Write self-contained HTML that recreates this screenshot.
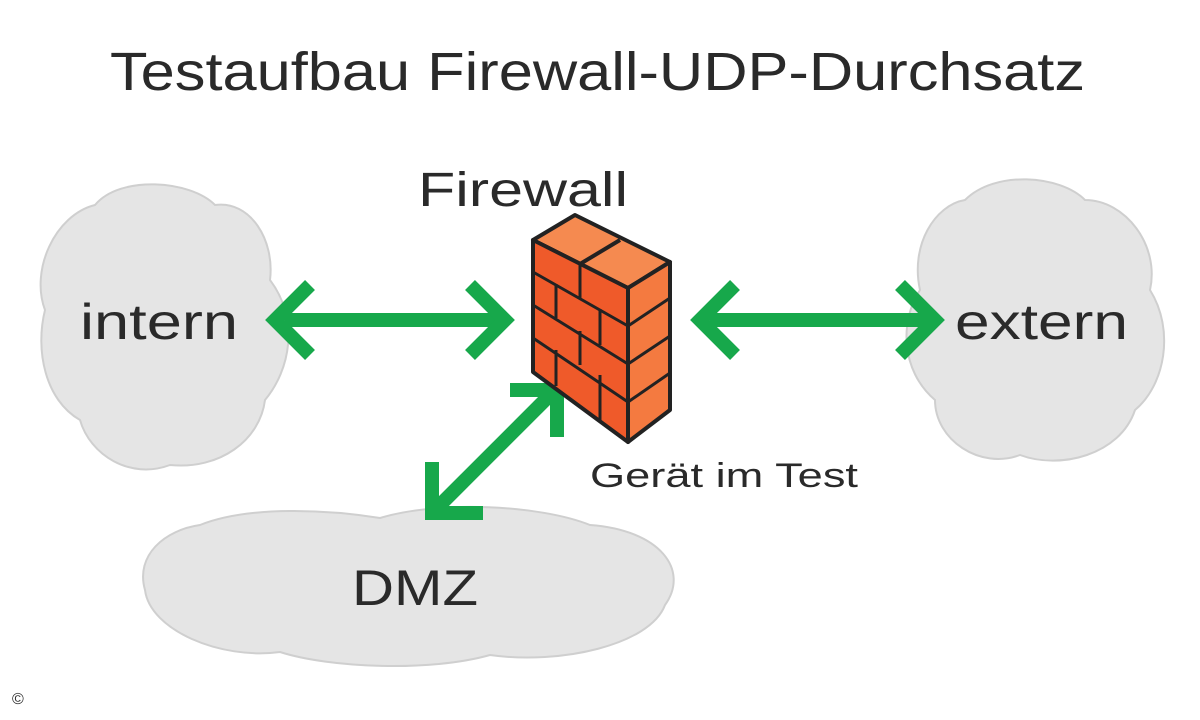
<!DOCTYPE html>
<html><head><meta charset="utf-8"><style>
html,body{margin:0;padding:0;background:#fff;}
svg{display:block;}
text{font-family:"Liberation Sans","DejaVu Sans",sans-serif;fill:#2a2a2a;}
</style></head><body>
<svg width="1200" height="720" viewBox="0 0 1200 720" xmlns="http://www.w3.org/2000/svg">
<g fill="#e5e5e5" stroke="#cfcfcf" stroke-width="2">
  <path d="M95,205 C120,175 190,180 215,205 C250,200 275,240 270,280 C300,320 290,370 265,400 C260,440 220,470 170,465 C130,480 90,455 80,420 C45,400 35,350 45,310 C30,270 55,215 95,205 Z"/>
  <path d="M965,200 C995,170 1060,175 1085,200 C1125,200 1160,245 1150,290 C1175,330 1165,385 1135,410 C1120,455 1060,470 1020,455 C980,470 935,440 935,400 C900,370 900,320 920,290 C910,245 935,205 965,200 Z"/>
  <path d="M200,525 C250,505 330,510 380,518 C440,500 540,505 590,525 C660,530 690,570 665,605 C650,645 560,665 490,655 C430,672 330,668 280,652 C220,660 150,630 145,590 C135,555 165,530 200,525 Z"/>
</g>
<text x="110" y="90" font-size="54" textLength="975" lengthAdjust="spacingAndGlyphs">Testaufbau Firewall-UDP-Durchsatz</text>
<text x="418" y="206" font-size="48" textLength="210" lengthAdjust="spacingAndGlyphs">Firewall</text>
<text x="80" y="339" font-size="50" textLength="158" lengthAdjust="spacingAndGlyphs">intern</text>
<text x="955" y="339" font-size="50" textLength="173" lengthAdjust="spacingAndGlyphs">extern</text>
<text x="352" y="605" font-size="50" textLength="126" lengthAdjust="spacingAndGlyphs">DMZ</text>
<text x="590" y="487" font-size="34" textLength="268" lengthAdjust="spacingAndGlyphs">Gerät im Test</text>
<text x="12" y="704" font-size="16">©</text>
<g stroke="#17a84b" stroke-width="14" fill="none" stroke-linecap="butt" stroke-linejoin="miter">
  <line x1="285" y1="320" x2="500" y2="320"/>
  <polyline points="310,285 275,320 310,355"/>
  <polyline points="470,285 505,320 470,355"/>
  <line x1="710" y1="320" x2="930" y2="320"/>
  <polyline points="735,285 700,320 735,355"/>
  <polyline points="900,285 935,320 900,355"/>
  <line x1="435" y1="510" x2="555" y2="390"/>
  <polyline points="432,462 432,513 483,513"/>
  <polyline points="510,390 557,390 557,437"/>
</g>
<g stroke="#222" stroke-width="4" stroke-linejoin="round">
  <polygon points="533,240 575,215 670,262 628,288" fill="#f58a50"/>
  <polygon points="533,240 628,288 628,442 533,372" fill="#ef5a2a"/>
  <polygon points="628,288 670,262 670,410 628,442" fill="#f47a40"/>
  <line x1="580" y1="264" x2="620" y2="240"/>
  <g fill="none" stroke-width="3">
    <line x1="533" y1="272" x2="628" y2="326"/>
    <line x1="533" y1="305" x2="628" y2="364"/>
    <line x1="533" y1="338" x2="628" y2="402"/>
    <line x1="628" y1="326" x2="670" y2="298"/>
    <line x1="628" y1="364" x2="670" y2="336"/>
    <line x1="628" y1="402" x2="670" y2="373"/>
    <line x1="580" y1="264" x2="580" y2="298"/>
    <line x1="556" y1="284" x2="556" y2="318"/>
    <line x1="600" y1="309" x2="600" y2="345"/>
    <line x1="580" y1="331" x2="580" y2="365"/>
    <line x1="556" y1="350" x2="556" y2="386"/>
    <line x1="600" y1="375" x2="600" y2="420"/>
  </g>
</g>
</svg>
</body></html>
